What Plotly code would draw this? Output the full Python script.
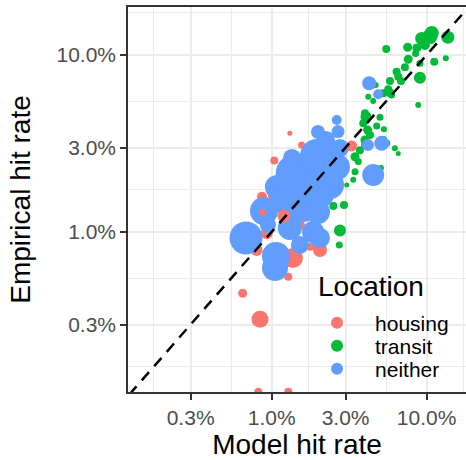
import numpy as np
import plotly.graph_objects as go

# Hit rates in percent; n = number of stops behind each point (drives marker area)
housing_model = [1.31, 1.56, 1.04, 0.80, 0.929, 1.16, 1.372, 1.77, 2.05, 1.28, 0.65, 0.841,
                 0.82, 1.28, 1.05, 1.52, 0.866]
housing_emp = [3.61, 3.10, 2.53, 0.791, 0.983, 0.71, 0.713, 0.826, 0.791, 0.559, 0.451, 0.321,
               0.125, 0.125, 1.62, 1.10, 1.58]
housing_n = [250, 490, 640, 1440, 1440, 4840, 4000, 640, 1960, 640, 810, 2890,
             640, 640, 1960, 1000, 1000]

# housing locations drawn above the other groups
housing_top_model = [3.28, 0.875, 1.20]
housing_top_emp = [3.06, 1.29, 1.23]
housing_top_n = [1210, 490, 1690]

transit_model = [10.5, 9.29, 10.8, 13.7, 9.75, 8.65, 7.54, 5.49, 13.3, 11.2, 9.05, 7.61,
                 7.24, 6.40, 6.56, 6.83, 5.80, 9.05, 5.65, 5.80, 5.94, 4.69, 5.25, 4.20,
                 4.52, 8.83, 4.00, 4.06, 3.90, 5.00, 4.76, 5.30, 4.16, 4.31, 4.00, 5.25,
                 4.00, 3.71, 3.45, 3.62, 6.24, 6.56, 3.45, 3.36, 3.05, 2.50, 2.93, 2.76,
                 2.73, 5.07, 5.52, 8.49]
transit_emp = [12.7, 12.4, 13.3, 12.6, 11.4, 10.96, 11.05, 10.8, 9.58, 9.17, 8.98, 9.46,
               8.52, 8.05, 7.54, 7.13, 7.13, 7.44, 6.40, 6.12, 5.94, 6.77, 6.08, 5.81,
               5.50, 5.22, 4.69, 4.48, 4.11, 4.45, 3.97, 3.80, 3.77, 3.53, 3.31, 3.31,
               3.10, 2.90, 2.66, 2.50, 2.97, 2.78, 2.19, 1.97, 1.84, 1.40, 1.42, 1.02,
               0.845, 2.30, 3.17, 10.2]
transit_n = [2250, 1690, 1960, 1690, 1000, 810, 810, 640, 360, 640, 490, 810,
             640, 640, 640, 640, 640, 1440, 640, 810, 490, 360, 640, 360,
             360, 360, 640, 1210, 640, 490, 490, 360, 810, 640, 810, 640,
             640, 640, 810, 490, 360, 250, 490, 360, 250, 640, 640, 1440,
             490, 360, 490, 490]

neither_model = [4.26, 4.87, 5.13, 4.52, 4.18, 2.63, 2.68,
                 0.683, 1.066, 1.05, 0.892, 1.082, 1.41, 1.96, 2.24, 2.64, 2.38, 1.59, 1.99,
                 1.85, 2.05, 1.31, 1.22, 1.64, 2.11, 1.52, 0.946, 2.11, 1.99, 1.352, 2.76]
neither_emp = [6.92, 6.00, 3.17, 2.10, 3.10, 4.29, 3.69,
               0.925, 0.732, 0.626, 1.314, 1.796, 2.15, 2.69, 3.31, 2.33, 1.843, 1.42, 1.297,
               1.00, 0.925, 1.053, 1.516, 1.843, 2.24, 0.845, 1.095, 1.618, 3.67, 2.62, 2.98]
neither_n = [1960, 1000, 2250, 4840, 1440, 1000, 1690,
             10890, 7840, 6760, 7840, 5760, 14440, 11560, 3240, 6760, 7840, 11560, 5760,
             4840, 4000, 5760, 7840, 10240, 6760, 3240, 2560, 5760, 1960, 3240, 3240]

tick_vals = [0.3, 1.0, 3.0, 10.0]
tick_text = ["0.3%", "1.0%", "3.0%", "10.0%"]
identity = [0.1, 20.0]

COLORS = {"housing": "#F8766D", "transit": "#00BA38", "neither": "#619CFF"}
FONT = "Liberation Sans, Arial, Helvetica, sans-serif"
SIZEREF = 20


def pct(v):
    return np.asarray(v, dtype=float) / 100.0


def marker(color, n):
    return dict(color=color, size=n, sizemode="area", sizeref=SIZEREF,
                line=dict(width=0), opacity=1)


fig = go.Figure()
fig.add_trace(go.Scatter(x=pct(housing_model), y=pct(housing_emp), mode="markers",
                         name="housing", legend="legend",
                         marker=marker(COLORS["housing"], housing_n)))
fig.add_trace(go.Scatter(x=pct(transit_model), y=pct(transit_emp), mode="markers",
                         name="transit", legend="legend2",
                         marker=marker(COLORS["transit"], transit_n)))
fig.add_trace(go.Scatter(x=pct(neither_model), y=pct(neither_emp), mode="markers",
                         name="neither", legend="legend3",
                         marker=marker(COLORS["neither"], neither_n)))
fig.add_trace(go.Scatter(x=pct(housing_top_model), y=pct(housing_top_emp), mode="markers",
                         name="housing", showlegend=False,
                         marker=marker(COLORS["housing"], housing_top_n)))
fig.add_trace(go.Scatter(x=pct(identity), y=pct(identity), mode="lines", showlegend=False,
                         line=dict(color="black", width=2.5, dash="11px,8px")))

# major gridlines at the labelled breaks, minor ones half-way between them (log space)
grid_major = list(pct(tick_vals))
minor_vals = list(np.sqrt(np.array([0.001] + grid_major) * np.array(grid_major + [0.3])))

axis_common = dict(
    type="log", tickvals=grid_major, ticktext=tick_text,
    showgrid=True, gridcolor="#EBEBEB", gridwidth=1.6,
    minor=dict(tickvals=minor_vals, showgrid=True, gridcolor="#EBEBEB", gridwidth=0.8, ticks=""),
    ticks="outside", ticklen=6, tickwidth=1.6, tickcolor="#333333",
    showline=True, linecolor="#333333", linewidth=1.6,
    tickfont=dict(family=FONT, size=21, color="#4D4D4D"),
    zeroline=False,
)

legend_common = dict(x=0.506, xanchor="left", yanchor="middle", itemwidth=66,
                     bgcolor="rgba(0,0,0,0)", itemsizing="constant",
                     font=dict(family=FONT, size=21, color="black"))

fig.update_layout(
    width=466, height=460,
    margin=dict(l=128, r=0, t=7, b=68),
    paper_bgcolor="white", plot_bgcolor="white",
    font=dict(family=FONT),
    xaxis=dict(axis_common, range=[-2.927, -0.746], mirror=True,
               title=dict(text="Model hit rate", font=dict(family=FONT, size=28, color="black"),
                          standoff=9)),
    yaxis=dict(axis_common, range=[-2.904, -0.729],
               title=dict(text="Empirical hit rate", font=dict(family=FONT, size=28, color="black"),
                          standoff=18)),
    legend=dict(legend_common, y=0.1792),
    legend2=dict(legend_common, y=0.1195),
    legend3=dict(legend_common, y=0.0597),
    annotations=[dict(text="Location", xref="paper", yref="paper", x=0.556, y=0.275,
                      xanchor="left", yanchor="middle", showarrow=False,
                      font=dict(family=FONT, size=28, color="black"))],
)

fig.write_html("out.html")
